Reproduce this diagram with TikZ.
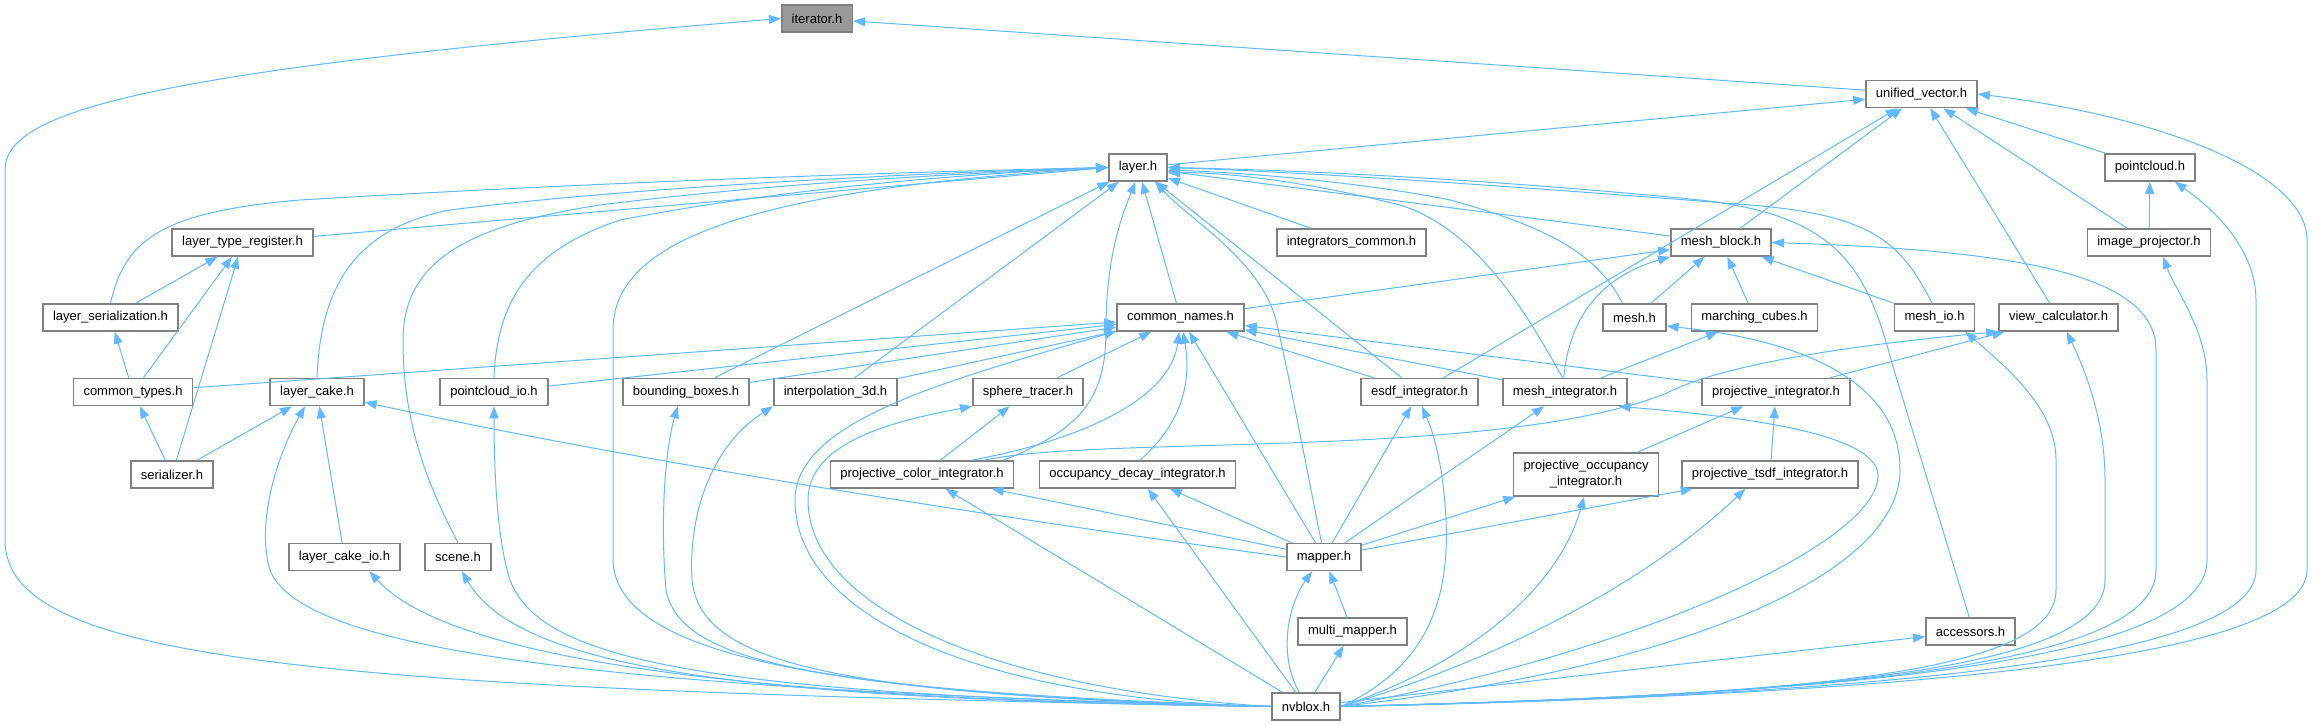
\documentclass[tikz,border=0pt]{standalone}
\usepackage{fontspec}
\setmainfont{Liberation Sans}
\usepackage{tikz}
\usetikzlibrary{arrows.meta}
\usepackage{xcolor}
\definecolor{edgeblue}{HTML}{63B8FF}
\definecolor{boxgray}{HTML}{808080}
\definecolor{rootgray}{HTML}{999999}

\begin{document}
\begin{tikzpicture}[x=1pt, y=-1pt,
    file/.style={draw=boxgray, line width=1.6pt, fill=white, inner xsep=10pt, inner ysep=0pt,
                 minimum height=27pt, font=\fontsize{13}{16}\selectfont},
    root/.style={file, fill=rootgray},
    dep/.style={draw=edgeblue, line width=1pt, -{Triangle[length=12pt,width=9pt]}}]
            \useasboundingbox (0,0) rectangle (2313,725);
            % files, row by row
            \node[root] (iter) at (817,18.5) {iterator.h};
            \node[file] (uvec) at (1921.5,94) {unified\_vector.h};
            \node[file] (layer) at (1138,167.5) {layer.h};
            \node[file] (pcloud) at (2150,167.5) {pointcloud.h};
            \node[file] (ltreg) at (242.5,242.5) {layer\_type\_register.h};
            \node[file] (intcom) at (1351.5,242.5) {integrators\_common.h};
            \node[file] (mblock) at (1721,242.5) {mesh\_block.h};
            \node[file] (improj) at (2149,242.5) {image\_projector.h};
            \node[file] (lser) at (110.5,317.5) {layer\_serialization.h};
            \node[file] (cnames) at (1180.5,317.5) {common\_names.h};
            \node[file] (mesh) at (1634.5,317.5) {mesh.h};
            \node[file] (mcubes) at (1754.5,317.5) {marching\_cubes.h};
            \node[file] (meshio) at (1934.5,317.5) {mesh\_io.h};
            \node[file] (viewcalc) at (2058.5,317.5) {view\_calculator.h};
            \node[file] (ctypes) at (133,392) {common\_types.h};
            \node[file] (lcake) at (317,392) {layer\_cake.h};
            \node[file] (pcio) at (494,392) {pointcloud\_io.h};
            \node[file] (bbox) at (686,392) {bounding\_boxes.h};
            \node[file] (interp) at (835.5,392) {interpolation\_3d.h};
            \node[file] (stracer) at (1028,392) {sphere\_tracer.h};
            \node[file] (esdf) at (1419.5,392) {esdf\_integrator.h};
            \node[file] (meshint) at (1565,392) {mesh\_integrator.h};
            \node[file] (projint) at (1776,392) {projective\_integrator.h};
            \node[file] (ser) at (172,474.5) {serializer.h};
            \node[file] (pcolor) at (922,474.5) {projective\_color\_integrator.h};
            \node[file] (odecay) at (1137.5,474.5) {occupancy\_decay\_integrator.h};
            \node[file, align=center, minimum height=43pt] (pocc) at (1586,474.5) {projective\_occupancy\\\_integrator.h};
            \node[file] (ptsdf) at (1770,474.5) {projective\_tsdf\_integrator.h};
            \node[file] (lcakeio) at (344.5,557) {layer\_cake\_io.h};
            \node[file] (scene) at (458,557) {scene.h};
            \node[file] (mapper) at (1324,557) {mapper.h};
            \node[file] (mmapper) at (1352.5,631.5) {multi\_mapper.h};
            \node[file] (access) at (1970.5,631.5) {accessors.h};
            \node[file] (nvblox) at (1306,706.5) {nvblox.h};
            % includes, top part
            \draw[dep] (uvec) -- (iter);
            \draw[dep] (nvblox.west) .. controls (300,690) and (5,660) .. (5,540) -- (5,170) .. controls (5,110) and (150,70) .. (iter.west);
            \draw[dep] (layer) -- (uvec);
            \draw[dep] (mblock) -- (uvec);
            \draw[dep] (esdf) -- (uvec);
            \draw[dep] (viewcalc) -- (uvec);
            \draw[dep] (improj) -- (uvec);
            \draw[dep] (pcloud) -- (uvec);
            \draw[dep] (nvblox.east) .. controls (1900,695) and (2307,660) .. (2307,570) -- (2307,240) .. controls (2307,170) and (2150,115) .. (uvec.east);
            \draw[dep] (improj) -- (pcloud);
            \draw[dep] (nvblox.east) .. controls (1880,695) and (2256,660) .. (2256,570) -- (2256,300) .. controls (2256,250) and (2215,210) .. (pcloud.-30);
            \draw[dep] (nvblox.east) .. controls (1860,695) and (2207,660) .. (2207,560) -- (2207,380) .. controls (2207,330) and (2175,290) .. (improj.-45);
            % into layer.h
            \draw[dep] (ltreg) -- (layer.west);
            \draw[dep] (lser.north) .. controls (125,240) and (160,212) .. (300,200) .. controls (600,182) and (900,172) .. (layer.west);
            \draw[dep] (lcake.north) .. controls (320,300) and (345,230) .. (450,210) .. controls (650,185) and (950,172) .. (layer.west);
            \draw[dep] (scene.north) .. controls (425,480) and (403,420) .. (403,340) .. controls (403,260) and (470,225) .. (600,205) .. controls (800,180) and (1000,172) .. (layer.west);
            \draw[dep] (pcio.north) .. controls (497,300) and (530,250) .. (620,220) .. controls (800,185) and (1000,172) .. (layer.west);
            \draw[dep] (nvblox.west) .. controls (850,695) and (615,660) .. (613,560) -- (613,330) .. controls (613,240) and (750,190) .. (layer.west);
            \draw[dep] (bbox) -- (layer);
            \draw[dep] (interp) -- (layer);
            \draw[dep] (cnames) -- (layer);
            \draw[dep] (pcolor.10) .. controls (1080,430) and (1106,400) .. (1106,330) .. controls (1106,260) and (1120,220) .. (layer.-100);
            \draw[dep] (mapper.100) .. controls (1305,460) and (1290,380) .. (1276,320) .. controls (1260,260) and (1190,220) .. (layer.-40);
            \draw[dep] (esdf) -- (layer);
            \draw[dep] (intcom) -- (layer);
            \draw[dep] (mblock) -- (layer);
            \draw[dep] (meshint.100) .. controls (1530,320) and (1480,230) .. (1400,205) .. controls (1300,180) and (1220,172) .. (layer.-10);
            \draw[dep] (mesh.130) .. controls (1600,260) and (1560,230) .. (1450,200) .. controls (1350,180) and (1230,172) .. (layer.-5);
            \draw[dep] (meshio.100) .. controls (1900,240) and (1870,215) .. (1750,205) .. controls (1500,185) and (1300,172) .. (layer.east);
            \draw[dep] (access.95) -- (1891,360) .. controls (1865,260) and (1830,215) .. (1700,200) .. controls (1500,180) and (1300,170) .. (layer.east);
            % left group
            \draw[dep] (lser) -- (ltreg);
            \draw[dep] (ctypes) -- (ltreg);
            \draw[dep] (ser) -- (ltreg);
            \draw[dep] (ctypes) -- (lser);
            \draw[dep] (ser) -- (ctypes);
            \draw[dep] (ser) -- (lcake);
            \draw[dep] (lcakeio) -- (lcake);
            \draw[dep] (mapper.west) .. controls (1050,525) and (650,465) .. (lcake.-12);
            % into common_names.h
            \draw[dep] (ctypes) -- (cnames);
            \draw[dep] (pcio) -- (cnames);
            \draw[dep] (bbox) -- (cnames);
            \draw[dep] (interp) -- (cnames);
            \draw[dep] (stracer) -- (cnames);
            \draw[dep] (nvblox.west) .. controls (990,700) and (795,620) .. (795,500) .. controls (795,420) and (950,380) .. (cnames.-168);
            \draw[dep] (pcolor.16) .. controls (1080,440) and (1170,400) .. (cnames.-95);
            \draw[dep] (odecay.80) .. controls (1180,425) and (1192,385) .. (cnames.-80);
            \draw[dep] (mapper) -- (cnames);
            \draw[dep] (esdf) -- (cnames);
            \draw[dep] (meshint) -- (cnames);
            \draw[dep] (projint) -- (cnames);
            % mesh files
            \draw[dep] (cnames) -- (mblock);
            \draw[dep] (meshint.95) .. controls (1568,330) and (1590,280) .. (mblock.south west);
            \draw[dep] (mesh) -- (mblock);
            \draw[dep] (mcubes) -- (mblock);
            \draw[dep] (meshio) -- (mblock);
            \draw[dep] (nvblox.east) .. controls (1840,695) and (2156,665) .. (2156,570) -- (2156,350) .. controls (2156,270) and (2000,250) .. (mblock.east);
            \draw[dep] (nvblox.east) .. controls (1700,665) and (1900,570) .. (1900,470) .. controls (1900,380) and (1800,340) .. (mesh.-15);
            \draw[dep] (meshint) -- (mcubes);
            \draw[dep] (nvblox.east) .. controls (1800,695) and (2056,675) .. (2056,590) -- (2056,460) .. controls (2056,410) and (2010,370) .. (meshio.-25);
            % view_calculator.h and integrators
            \draw[dep] (pcolor.13) .. controls (1100,435) and (1500,460) .. (1667,393) .. controls (1720,365) and (1850,345) .. (viewcalc.south west);
            \draw[dep] (projint) -- (viewcalc);
            \draw[dep] (nvblox.east) .. controls (1820,695) and (2105,670) .. (2105,580) -- (2105,480) .. controls (2105,420) and (2085,370) .. (viewcalc.-60);
            \draw[dep] (pocc) -- (projint);
            \draw[dep] (ptsdf) -- (projint);
            \draw[dep] (mapper) -- (ptsdf);
            \draw[dep] (nvblox.east) .. controls (1500,660) and (1650,580) .. (ptsdf.-150);
            \draw[dep] (mapper) -- (pocc);
            \draw[dep] (nvblox.east) .. controls (1450,670) and (1555,600) .. (pocc.-95);
            \draw[dep] (mapper) -- (meshint);
            \draw[dep] (nvblox.east) .. controls (1650,650) and (1880,540) .. (1878,475) .. controls (1876,430) and (1720,415) .. (meshint.-15);
            \draw[dep] (mapper) -- (esdf);
            \draw[dep] (nvblox.east) .. controls (1420,670) and (1450,610) .. (1446,520) .. controls (1443,460) and (1432,430) .. (esdf.-80);
            \draw[dep] (mapper) -- (pcolor);
            \draw[dep] (nvblox) -- (pcolor);
            \draw[dep] (pcolor) -- (stracer);
            \draw[dep] (nvblox.west) .. controls (1000,690) and (808,610) .. (808,500) .. controls (808,440) and (900,420) .. (stracer.south west);
            \draw[dep] (mapper) -- (odecay);
            \draw[dep] (nvblox) -- (odecay);
            \draw[dep] (nvblox.115) .. controls (1280,660) and (1285,610) .. (mapper.-130);
            \draw[dep] (mmapper) -- (mapper);
            \draw[dep] (nvblox) -- (mmapper);
            % nvblox.h on the left
            \draw[dep] (nvblox.west) .. controls (600,690) and (300,650) .. (270,570) .. controls (255,520) and (280,450) .. (lcake.-130);
            \draw[dep] (nvblox.west) .. controls (750,700) and (450,660) .. (lcakeio.-30);
            \draw[dep] (nvblox.west) .. controls (750,700) and (520,670) .. (scene.-75);
            \draw[dep] (nvblox.west) .. controls (700,695) and (540,660) .. (510,580) .. controls (497,540) and (494,470) .. (pcio.south);
            \draw[dep] (nvblox.west) .. controls (800,690) and (680,660) .. (666,590) .. controls (660,520) and (665,450) .. (bbox.-120);
            \draw[dep] (nvblox.west) .. controls (820,695) and (700,660) .. (692,580) .. controls (688,500) and (720,440) .. (interp.south west);
            \draw[dep] (nvblox) -- (access);
        \end{tikzpicture}
\end{document}
